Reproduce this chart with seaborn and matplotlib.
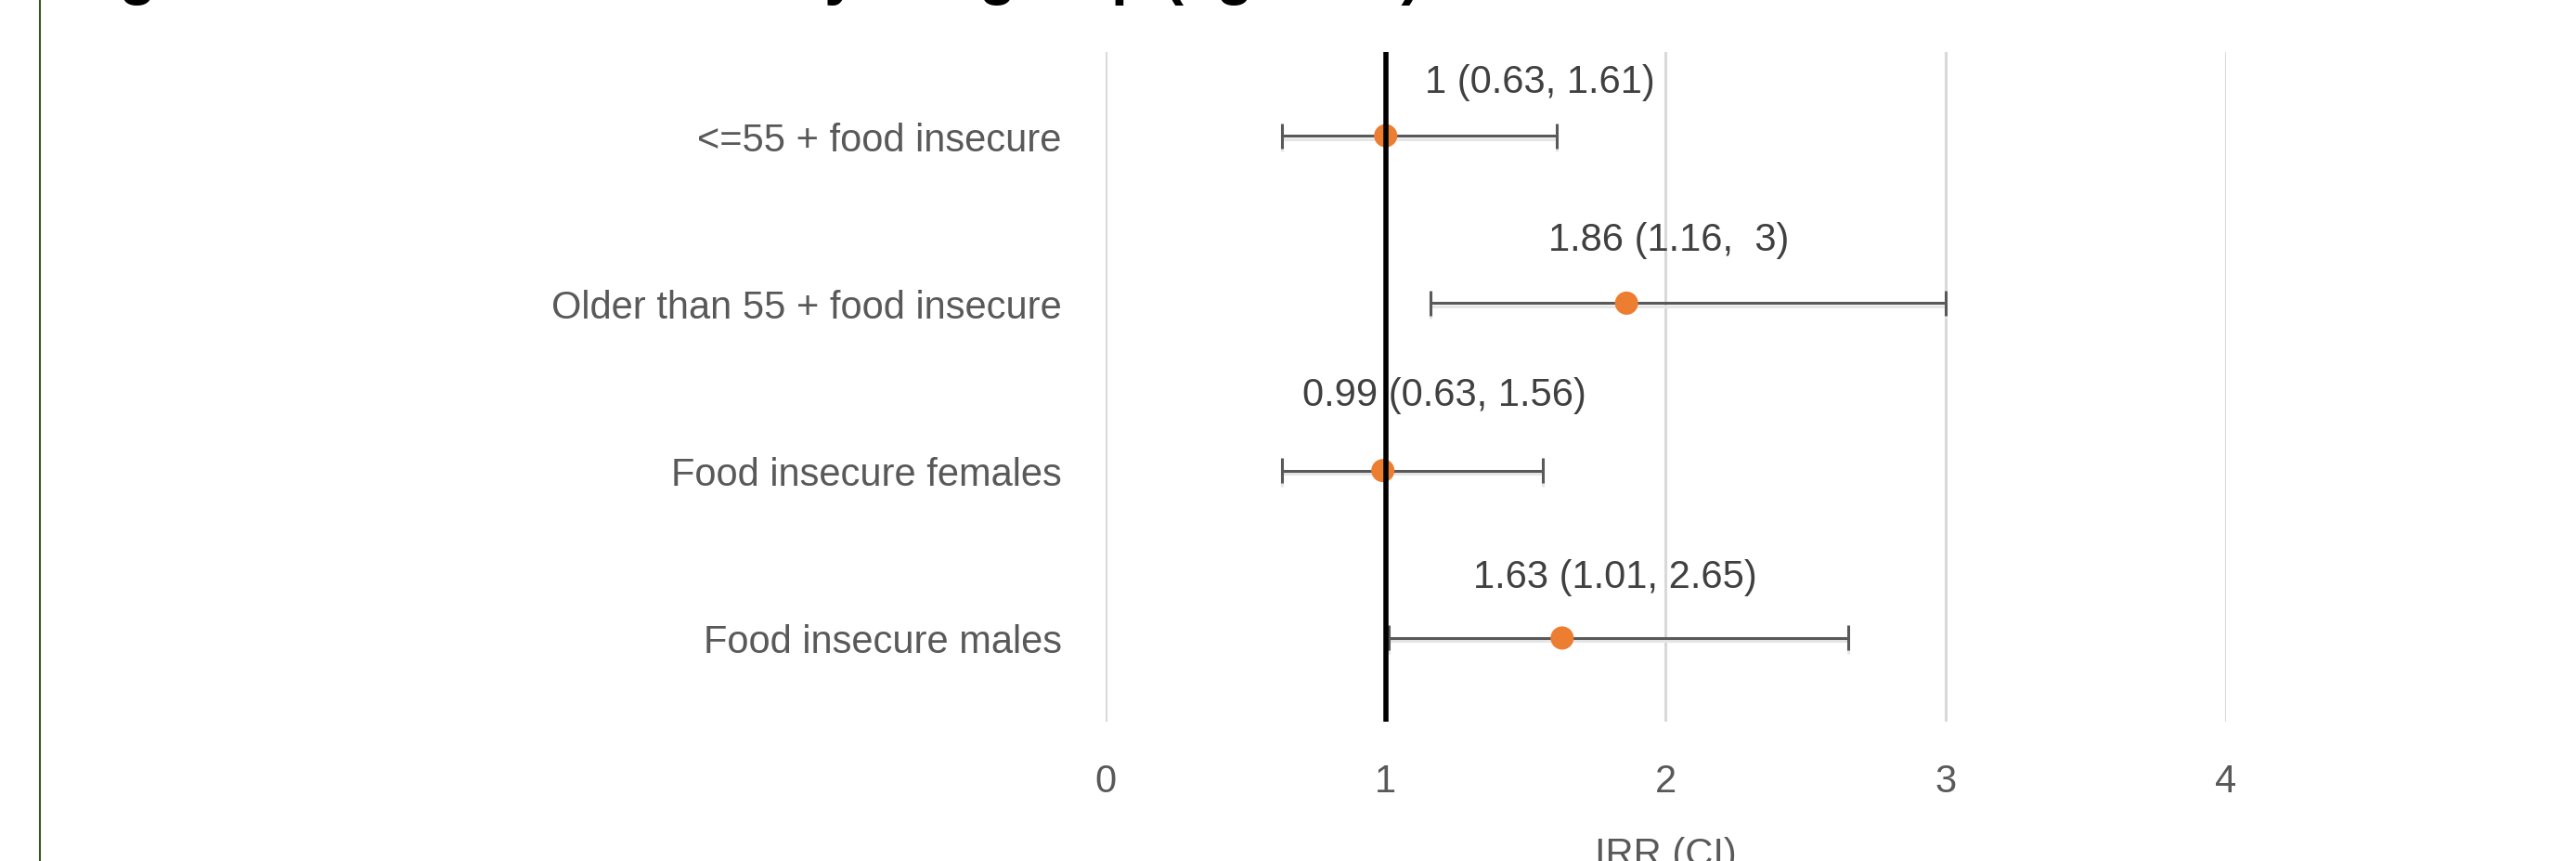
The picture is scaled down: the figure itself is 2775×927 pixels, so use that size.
import pandas as pd
import matplotlib.pyplot as plt
import matplotlib.patheffects as pe
from matplotlib.lines import Line2D
import seaborn as sns

groups = ['<=55 + food insecure', 'Older than 55 + food insecure',
          'Food insecure females', 'Food insecure males']
irr = [1, 1.86, 0.99, 1.63]
ci_low = [0.63, 1.16, 0.63, 1.01]
ci_high = [1.61, 3, 1.56, 2.65]
labels = ['1 (0.63, 1.61)', '1.86 (1.16,  3)', '0.99 (0.63, 1.56)', '1.63 (1.01, 2.65)']

# where the data labels sit (x centre in IRR units, shift up in rows)
label_x = [1.55, 2.01, 1.21, 1.82]
label_dy = [0.32, 0.38, 0.455, 0.365]

df = pd.DataFrame({'group': groups, 'irr': irr, 'low': ci_low, 'high': ci_high})

sns.set_theme(style='white')
plt.rcParams['font.family'] = ['Liberation Sans', 'DejaVu Sans']

fig = plt.figure(figsize=(27.75, 9.28), dpi=100)
ax = fig.add_axes([0.4292, 0.1616, 0.4349, 0.777])

ax.errorbar(df['irr'], df['group'],
            xerr=[df['irr'] - df['low'], df['high'] - df['irr']],
            fmt='none', ecolor='#595959', elinewidth=2.2, capsize=9.7, capthick=2.2,
            zorder=3,
            path_effects=[pe.SimpleLineShadow(offset=(0, -2.5), shadow_color='#e6e6e6', alpha=1),
                          pe.Normal()])
sns.scatterplot(data=df, x='irr', y='group', ax=ax, color='#ED7D31', s=18 ** 2,
                edgecolor='none', zorder=4, legend=False)

ax.axvline(1, color='black', lw=4, zorder=6)

for i in range(len(groups)):
    ax.text(label_x[i], i - label_dy[i], labels[i], ha='center', va='center',
            fontsize=30, color='#404040', zorder=5)

ax.set_xlim(0, 4)
ax.set_ylim(3.5, -0.5)
ax.set_xticks([0, 1, 2, 3, 4])
ax.grid(axis='x', color='#d9d9d9', lw=2.2)
ax.grid(axis='y', visible=False)
for s in ax.spines.values():
    s.set_visible(False)
ax.tick_params(axis='y', length=0, pad=34, labelsize=30, labelcolor='#595959')
ax.tick_params(axis='x', length=0, pad=32, labelsize=30, labelcolor='#595959')
ax.set_ylabel('')
ax.set_xlabel('IRR (CI)', fontsize=30, color='#595959')
ax.xaxis.set_label_coords(0.5, -0.17)

fig.add_artist(Line2D([0.0155, 0.0155], [0, 1], transform=fig.transFigure,
                      color='#375623', lw=1.5))
fig.text(0.026, 1 + 7 / 928, 'Figure 2: IRR of outcome by subgroup (age/sex)',
         fontsize=46, fontweight='bold', color='black', va='baseline')

fig.savefig('out.png', dpi=100, facecolor='white')
